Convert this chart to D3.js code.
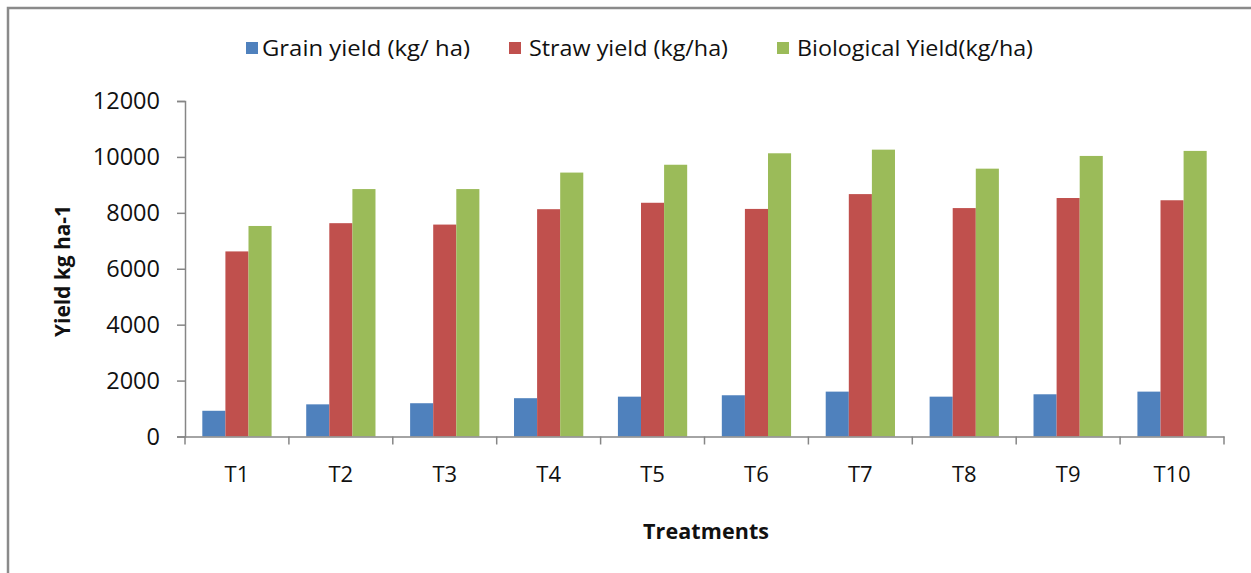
<!DOCTYPE html>
<html>
<head>
<meta charset="utf-8">
<script src="https://cdn.jsdelivr.net/npm/d3@7"></script>
<style>
  html, body { margin: 0; padding: 0; background: #fff; }
  svg { display: block; }
  text { font-family: "Open Sans", Lato, sans-serif; fill: #111; }
</style>
</head>
<body>
<svg id="chart" width="1251" height="573"></svg>
<script>
const categories = ["T1", "T2", "T3", "T4", "T5", "T6", "T7", "T8", "T9", "T10"];
const seriesNames = ["Grain yield (kg/ ha)", "Straw yield (kg/ha)", "Biological Yield(kg/ha)"];
const grainYield = [920, 1150, 1190, 1370, 1425, 1475, 1605, 1425, 1510, 1605];
const strawYield = [6620, 7630, 7580, 8130, 8360, 8140, 8670, 8170, 8530, 8450];
const biologicalYield = [7530, 8850, 8850, 9440, 9720, 10130, 10260, 9580, 10035, 10215];
const yTicks = [0, 2000, 4000, 6000, 8000, 10000, 12000];
const colors = ["#4F81BD", "#C0504D", "#9BBB59"];

const seriesValues = [grainYield, strawYield, biologicalYield];
const svg = d3.select("#chart");
const axisColor = "#868686";
const fontFam = "'Open Sans', Lato, sans-serif";

// outer frame
svg.append("rect").attr("x", 8).attr("y", 8).attr("width", 1260).attr("height", 600)
  .attr("fill", "none").attr("stroke", "#8a8a8a").attr("stroke-width", 2.5);

const x = d3.scaleBand().domain(categories).range([185, 1224]).paddingInner(0).paddingOuter(0);
const xSub = d3.scaleBand().domain(d3.range(seriesNames.length)).range([0, x.bandwidth()])
  .paddingInner(0).paddingOuter(0.75);
const y = d3.scaleLinear().domain([0, 12000]).range([436.5, 101]);

// bars
const groups = svg.append("g").selectAll("g").data(categories).join("g")
  .attr("transform", d => `translate(${x(d)},0)`);
groups.selectAll("rect").data((d, i) => seriesValues.map((s, k) => ({k, v: s[i]}))).join("rect")
  .attr("x", d => xSub(d.k)).attr("width", xSub.bandwidth())
  .attr("y", d => y(d.v)).attr("height", d => y(0) - y(d.v))
  .attr("fill", d => colors[d.k]);

// y axis
const yAxis = svg.append("g").attr("transform", "translate(185,0)")
  .call(d3.axisLeft(y).tickValues(yTicks).tickSize(8).tickPadding(17).tickFormat(d3.format("d")));
yAxis.select(".domain").attr("stroke", axisColor).attr("stroke-width", 1.5);
yAxis.selectAll(".tick line").attr("stroke", axisColor).attr("stroke-width", 1.5);
yAxis.selectAll(".tick text").attr("font-size", 23.5).attr("font-family", fontFam).attr("fill", "#111");

// x axis (labels centered, ticks at category boundaries)
const xAxis = svg.append("g").attr("transform", `translate(0,${y(0)})`)
  .call(d3.axisBottom(x).tickSize(0).tickPadding(30));
xAxis.select(".domain").attr("stroke", axisColor).attr("stroke-width", 1.5);
xAxis.selectAll(".tick text").attr("font-size", 22).attr("font-family", fontFam).attr("fill", "#111");
const bounds = categories.map(c => x(c)).concat([x.range()[1]]);
xAxis.selectAll(".bound").data(bounds).join("line").attr("class", "bound")
  .attr("x1", d => d).attr("x2", d => d).attr("y1", 0).attr("y2", 8)
  .attr("stroke", axisColor).attr("stroke-width", 1.5);

// axis titles
svg.append("text").attr("x", 706).attr("y", 539).attr("text-anchor", "middle")
  .attr("font-size", 21.5).attr("font-weight", "bold").attr("textLength", 126).text("Treatments");
svg.append("text").attr("transform", "translate(70,271) rotate(-90)").attr("text-anchor", "middle")
  .attr("font-size", 21).attr("font-weight", "bold").attr("textLength", 132).text("Yield kg ha-1");

// legend
const legendPos = [{sq: 246, tx: 262, w: 208}, {sq: 509, tx: 529, w: 199}, {sq: 777, tx: 797, w: 236}];
const legend = svg.append("g").selectAll("g").data(seriesNames).join("g");
legend.append("rect").attr("x", (d, i) => legendPos[i].sq).attr("y", 42).attr("width", 12).attr("height", 12)
  .attr("fill", (d, i) => colors[i]);
legend.append("text").attr("x", (d, i) => legendPos[i].tx).attr("y", 56)
  .attr("font-size", 21).attr("textLength", (d, i) => legendPos[i].w).attr("lengthAdjust", "spacingAndGlyphs")
  .text(d => d);
</script>
</body>
</html>
